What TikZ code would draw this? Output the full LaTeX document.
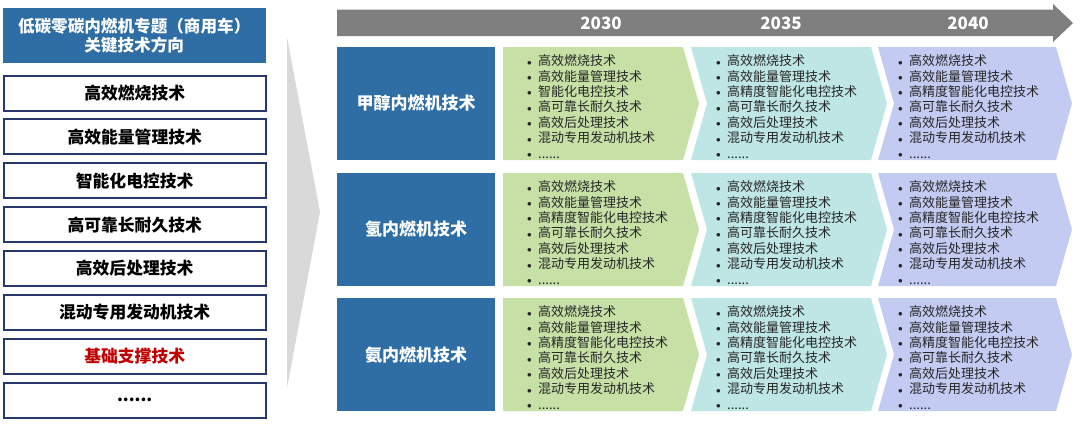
\documentclass[tikz,border=0pt]{standalone}
\usepackage{fontspec}
\setmainfont{Noto Sans CJK SC}

\definecolor{titleblue}{RGB}{46,110,165}
\definecolor{boxnavy}{RGB}{40,56,110}
\definecolor{arrowgray}{RGB}{127,127,127}
\definecolor{wedgegray}{RGB}{217,217,217}
\definecolor{stagegreen}{RGB}{198,224,166}
\definecolor{stagecyan}{RGB}{190,230,228}
\definecolor{stagelav}{RGB}{196,203,243}
\definecolor{basered}{RGB}{192,0,0}

\newcommand{\itm}{\makebox[11pt][l]{\raisebox{0.6pt}{$\scriptstyle\bullet$}}}
\newcommand{\techlistA}{\itm 高效燃烧技术\\ \itm 高效能量管理技术\\ \itm 智能化电控技术\\ \itm 高可靠长耐久技术\\ \itm 高效后处理技术\\ \itm 混动专用发动机技术\\ \itm ......}
\newcommand{\techlistB}{\itm 高效燃烧技术\\ \itm 高效能量管理技术\\ \itm 高精度智能化电控技术\\ \itm 高可靠长耐久技术\\ \itm 高效后处理技术\\ \itm 混动专用发动机技术\\ \itm ......}

\begin{document}
\begin{tikzpicture}[x=1pt,y=-1pt,
  headbox/.style={rectangle,fill=titleblue,minimum width=263pt,minimum height=55pt,inner sep=0pt,text=white,align=center,font=\fontsize{16.6}{18.5}\selectfont\bfseries},
  techbox/.style={rectangle,draw=boxnavy,line width=2pt,minimum width=262pt,minimum height=35pt,inner sep=0pt,font=\fontsize{16.8}{18}\selectfont\bfseries},
  fuelbox/.style={rectangle,fill=titleblue,minimum width=158pt,minimum height=113pt,inner sep=0pt,text=white,font=\fontsize{17}{18}\selectfont\bfseries},
  yearlabel/.style={text=white,inner sep=0pt,font=\fontsize{17}{18}\selectfont\bfseries},
  stagetext/.style={anchor=west,inner sep=0pt,align=left,text=black!85,font=\fontsize{13}{15.4}\selectfont}]
\useasboundingbox (0,0) rectangle (1080,424);

% left column
\path (134.2,35.5) node[headbox] (head) {低碳零碳内燃机专题（商用车）\\关键技术方向};
\path (134.7,93) node[techbox] (t1) {高效燃烧技术};
\path (134.7,136.9) node[techbox] (t2) {高效能量管理技术};
\path (134.7,180.7) node[techbox] (t3) {智能化电控技术};
\path (134.7,224.6) node[techbox] (t4) {高可靠长耐久技术};
\path (134.7,268.4) node[techbox] (t5) {高效后处理技术};
\path (134.7,312.3) node[techbox] (t6) {混动专用发动机技术};
\path (134.7,356.1) node[techbox,text=basered] (t7) {基础支撑技术};
\path (134.7,400) node[techbox] (t8) {......};

% gray wedge
\fill[wedgegray] (287,37) -- (320,212) -- (287,388) -- cycle;

% time arrow
\fill[arrowgray] (337,9.5) -- (1053,9.5) -- (1053,4) -- (1073,23) -- (1053,42) -- (1053,36) -- (337,36) -- cycle;
\path (601,23) node[yearlabel] (y2030) {2030};
\path (781,23) node[yearlabel] (y2035) {2035};
\path (968,23) node[yearlabel] (y2040) {2040};

% methanol
\path (416,103.5) node[fuelbox] (meth) {甲醇内燃机技术};
\fill[stagegreen] (503,47) -- (683,47) -- (699,103.5) -- (683,160) -- (503,160) -- cycle;
\fill[stagecyan] (691,47) -- (871,47) -- (887,103.5) -- (871,160) -- (691,160) -- (707,103.5) -- cycle;
\fill[stagelav] (878,47) -- (1056,47) -- (1072,103.5) -- (1056,160) -- (878,160) -- (894,103.5) -- cycle;
\path (527,106.5) node[stagetext] (meth30) {\techlistA};
\path (716,106.5) node[stagetext] (meth35) {\techlistB};
\path (898,106.5) node[stagetext] (meth40) {\techlistB};

% hydrogen
\path (416,229.5) node[fuelbox] (hydr) {氢内燃机技术};
\fill[stagegreen] (503,173) -- (683,173) -- (699,229.5) -- (683,286) -- (503,286) -- cycle;
\fill[stagecyan] (691,173) -- (871,173) -- (887,229.5) -- (871,286) -- (691,286) -- (707,229.5) -- cycle;
\fill[stagelav] (878,173) -- (1056,173) -- (1072,229.5) -- (1056,286) -- (878,286) -- (894,229.5) -- cycle;
\path (527,232.5) node[stagetext] (hydr30) {\techlistB};
\path (716,232.5) node[stagetext] (hydr35) {\techlistB};
\path (898,232.5) node[stagetext] (hydr40) {\techlistB};

% ammonia
\path (416,354.5) node[fuelbox] (ammo) {氨内燃机技术};
\fill[stagegreen] (503,298) -- (683,298) -- (699,354.5) -- (683,411) -- (503,411) -- cycle;
\fill[stagecyan] (691,298) -- (871,298) -- (887,354.5) -- (871,411) -- (691,411) -- (707,354.5) -- cycle;
\fill[stagelav] (878,298) -- (1056,298) -- (1072,354.5) -- (1056,411) -- (878,411) -- (894,354.5) -- cycle;
\path (527,357.5) node[stagetext] (ammo30) {\techlistB};
\path (716,357.5) node[stagetext] (ammo35) {\techlistB};
\path (898,357.5) node[stagetext] (ammo40) {\techlistB};
\end{tikzpicture}
\end{document}
